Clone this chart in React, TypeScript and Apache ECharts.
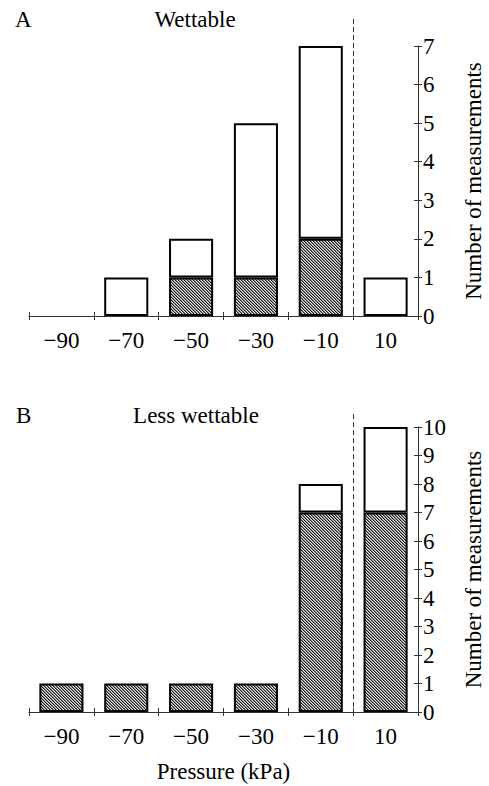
import React, { useEffect, useRef } from "react";
import * as echarts from "echarts";

const categories = ["−90", "−70", "−50", "−30", "−10", "10"];
const wettableTotal = [0, 1, 2, 5, 7, 1];
const wettableHatched = [0, 0, 1, 1, 2, 0];
const lessTotal = [1, 1, 1, 1, 8, 10];
const lessHatched = [1, 1, 1, 1, 7, 7];
const boundaryIndex = 5; // dashed divider between −10 and 10
const wettableMax = 7;
const lessMax = 10;

const FONT = "Liberation Serif";
const FS = 23;

function makeHatchUrl(): string {
  const shades = ["#1a1a1a", "#8a8a8a", "#e0e0e0"];
  let rects = "";
  for (let y = 0; y < 6; y++) {
    for (let x = 0; x < 6; x++) {
      const k = (x - y + 6) % 3;
      rects += `<rect x='${x}' y='${y}' width='1' height='1' fill='${shades[k]}'/>`;
    }
  }
  const svg =
    `<svg xmlns='http://www.w3.org/2000/svg' width='6' height='6' shape-rendering='crispEdges'>` +
    `${rects}</svg>`;
  return "data:image/svg+xml;charset=utf-8," + encodeURIComponent(svg);
}

const zeroToGap = (v: number) => (v === 0 ? "-" : v);

export default function App() {
  const ref = useRef<HTMLDivElement>(null);
  useEffect(() => {
    document.body.style.margin = "0";
    const chart = echarts.init(ref.current!, null, { renderer: "svg" });
    const hatch = { image: makeHatchUrl(), repeat: "repeat", imageWidth: 6, imageHeight: 6 } as any;

    const grids = [
      { left: 29, right: 71, top: 46, bottom: 470, outerBoundsMode: "none", containLabel: false },
      { left: 29, right: 71, top: 427, bottom: 74, outerBoundsMode: "none", containLabel: false },
      { left: 29, right: 71, top: 19, bottom: 466, outerBoundsMode: "none", containLabel: false },
      { left: 29, right: 71, top: 413, bottom: 71, outerBoundsMode: "none", containLabel: false },
    ];

    const labelStyle = { fontFamily: FONT, fontSize: FS, color: "#000", fontWeight: "normal" };

    const mainX = (g: number, name?: string) => ({
      type: "category",
      gridIndex: g,
      data: categories,
      position: "bottom",
      boundaryGap: true,
      axisLine: { show: true, onZero: false, lineStyle: { color: "#333", width: 1 } },
      axisTick: { show: true, length: 4, interval: 0, lineStyle: { color: "#333" } },
      axisLabel: { ...labelStyle, margin: 13, interval: 0 },
      splitLine: { show: false },
      name: name || "",
      nameLocation: "middle",
      nameGap: 48,
      nameTextStyle: { ...labelStyle },
    });
    const innerX = (g: number) => ({
      type: "category",
      gridIndex: g,
      data: categories,
      position: "bottom",
      boundaryGap: true,
      axisLine: { show: false, onZero: false },
      axisTick: { show: true, inside: true, length: 4, interval: 0, lineStyle: { color: "#333" } },
      axisLabel: { show: false },
      splitLine: { show: false },
    });
    const mainY = (g: number, max: number) => ({
      type: "value",
      gridIndex: g,
      position: "right",
      min: 0,
      max,
      interval: 1,
      axisLine: { show: true, onZero: false, lineStyle: { color: "#333", width: 1 } },
      axisTick: { show: true, length: 4, lineStyle: { color: "#333" } },
      axisLabel: { ...labelStyle, margin: 5 },
      splitLine: { show: false },
      name: "Number of measurements",
      nameLocation: "middle",
      nameRotate: 90,
      nameGap: 44,
      nameTextStyle: { ...labelStyle },
    });
    const innerY = (g: number, max: number) => ({
      type: "value",
      gridIndex: g,
      position: "right",
      min: 0,
      max,
      interval: 1,
      axisLine: { show: false, onZero: false },
      axisTick: { show: true, inside: true, length: 4, lineStyle: { color: "#333" } },
      axisLabel: { show: false },
      splitLine: { show: false },
    });

    const barStyle = (color: any) => ({ color, borderColor: "#000", borderWidth: 2 });
    const divider = (axisIdx: number) => ({
      type: "scatter",
      xAxisIndex: axisIdx,
      yAxisIndex: axisIdx,
      data: [],
      silent: true,
      markLine: {
        silent: true,
        symbol: ["none", "none"],
        label: { show: false },
        lineStyle: { type: [5, 3], color: "#333", width: 1 },
        data: [{ xAxis: boundaryIndex }],
      },
    });

    const txt = (text: string, x: number, y: number, align: string) => ({
      type: "text",
      x,
      y,
      style: {
        text,
        fontFamily: FONT,
        fontSize: FS,
        fill: "#000",
        align,
        verticalAlign: "middle",
      },
    });

    chart.setOption({
      animation: false,
      backgroundColor: "#fff",
      grid: grids,
      xAxis: [
        mainX(0),
        innerX(0),
        mainX(1, "Pressure (kPa)"),
        innerX(1),
        { type: "value", gridIndex: 2, min: 0, max: categories.length, show: false },
        { type: "value", gridIndex: 3, min: 0, max: categories.length, show: false },
      ],
      yAxis: [
        mainY(0, wettableMax),
        innerY(0, wettableMax),
        mainY(1, lessMax),
        innerY(1, lessMax),
        { type: "value", gridIndex: 2, min: 0, max: 1, show: false },
        { type: "value", gridIndex: 3, min: 0, max: 1, show: false },
      ],
      graphic: [
        txt("A", 15, 19, "left"),
        txt("Wettable", 195, 19, "center"),
        txt("B", 16, 415, "left"),
        txt("Less wettable", 196, 415, "center"),
      ],
      series: [
        {
          type: "bar",
          xAxisIndex: 0,
          yAxisIndex: 0,
          stack: "A",
          barWidth: "68%",
          data: wettableHatched.map(zeroToGap),
          itemStyle: barStyle(hatch),
        },
        {
          type: "bar",
          xAxisIndex: 0,
          yAxisIndex: 0,
          stack: "A",
          barWidth: "68%",
          data: wettableTotal.map((t, i) => zeroToGap(t - wettableHatched[i])),
          itemStyle: barStyle("#fff"),
        },
        {
          type: "bar",
          xAxisIndex: 2,
          yAxisIndex: 2,
          stack: "B",
          barWidth: "68%",
          data: lessHatched.map(zeroToGap),
          itemStyle: barStyle(hatch),
        },
        {
          type: "bar",
          xAxisIndex: 2,
          yAxisIndex: 2,
          stack: "B",
          barWidth: "68%",
          data: lessTotal.map((t, i) => zeroToGap(t - lessHatched[i])),
          itemStyle: barStyle("#fff"),
        },
        divider(4),
        divider(5),
      ],
    });
    return () => chart.dispose();
  }, []);
  return (
    <div
      ref={ref}
      style={{ position: "absolute", left: 0, top: 0, width: 489, height: 786 }}
    />
  );
}
